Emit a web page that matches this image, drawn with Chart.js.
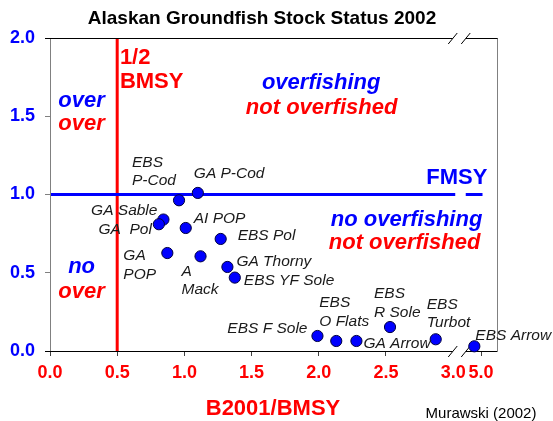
<!DOCTYPE html>
<html>
<head>
<meta charset="utf-8">
<style>
    body { margin: 0; background: #fff; }
</style>
</head>
<body>
<canvas id="chart" width="553" height="421"></canvas>

<script src="https://cdn.jsdelivr.net/npm/chart.js"></script>
<script type="text/javascript">
    // stock status 2002
    const stocks = ['EBS\nP-Cod', 'GA P-Cod', 'GA Sable', 'GA  Pol', 'AI POP', 'EBS Pol', 'GA\nPOP', 'A\nMack',
        'GA Thorny', 'EBS YF Sole', 'EBS F Sole', 'EBS\nO Flats', 'GA Arrow', 'EBS\nR Sole', 'EBS\nTurbot', 'EBS Arrow'];
    const biomassRatio = [0.96, 1.10, 0.844, 0.81, 1.01, 1.27, 0.873, 1.12, 1.32, 1.375, 1.99, 2.13, 2.28, 2.53, 2.87, 4.52];
    const fishingRatio = [0.963, 1.01, 0.84, 0.81, 0.786, 0.716, 0.626, 0.605, 0.537, 0.469, 0.096, 0.064, 0.064, 0.153, 0.075, 0.03];

    const xTickValues = [0, 0.5, 1, 1.5, 2, 2.5, 3, 5];
    const xTickLabels = ['0.0', '0.5', '1.0', '1.5', '2.0', '2.5', '3.0', '5.0'];
    const yTickValues = [0, 0.5, 1, 1.5, 2];

    const halfBmsy = 0.5;
    const fmsy = 1.0;

    // axis is broken after 3.0, the 3..5 stretch is squeezed
    const breakAt = 3;
    const squeeze = 0.1035;
    function toAxis(v) {
        return v <= breakAt ? v : breakAt + (v - breakAt) * squeeze;
    }

    // where each stock name sits relative to its dot: [dx, dy, align]
    const labelOffsets = [[-47, -38, 'left'], [-4, -19, 'left'], [-6, -9, 'right'], [-7, 5, 'right'],
        [8, -9, 'left'], [17, -3, 'left'], [-44, 3, 'left'], [-19, 15, 'left'], [9, -5, 'left'],
        [9, 3, 'left'], [-10, -7, 'right'], [-17, -38, 'left'], [7, 3, 'left'], [-16, -33, 'left'],
        [-9, -35, 'left'], [1, -11, 'left']];

    const BLUE = '#0000ff', RED = '#ff0000';
    const FONT = "'Liberation Sans', Arial, sans-serif";

    const notes = [
        {text: '1/2', x: 0.52, y: 1.875, color: RED, align: 'left', italic: false},
        {text: 'BMSY', x: 0.52, y: 1.72, color: RED, align: 'left', italic: false},
        {text: 'over', x: 0.235, y: 1.60, color: BLUE, align: 'center', italic: true},
        {text: 'over', x: 0.235, y: 1.45, color: RED, align: 'center', italic: true},
        {text: 'no', x: 0.235, y: 0.54, color: BLUE, align: 'center', italic: true},
        {text: 'over', x: 0.235, y: 0.375, color: RED, align: 'center', italic: true},
        {text: 'overfishing', x: 2.018, y: 1.71, color: BLUE, align: 'center', italic: true},
        {text: 'not overfished', x: 2.021, y: 1.555, color: RED, align: 'center', italic: true},
        {text: 'FMSY', x: 3.254, y: 1.108, color: BLUE, align: 'right', italic: false},
        {text: 'no overfishing', x: 3.217, y: 0.84, color: BLUE, align: 'right', italic: true},
        {text: 'not overfished', x: 3.202, y: 0.69, color: RED, align: 'right', italic: true}
    ];

    function line(ctx, x1, y1, x2, y2) {
        ctx.beginPath();
        ctx.moveTo(x1, y1);
        ctx.lineTo(x2, y2);
        ctx.stroke();
    }

    const decor = {
        id: 'decor',
        beforeDatasetsDraw(chart) {
            const {ctx, chartArea: a, scales: {x, y}} = chart;
            const bx = x.getPixelForValue(3.045);
            ctx.save();
            ctx.lineCap = 'butt';

            // reference lines
            ctx.strokeStyle = RED;
            ctx.lineWidth = 3;
            const rx = x.getPixelForValue(halfBmsy);
            line(ctx, rx, a.top, rx, a.bottom);

            const fy = y.getPixelForValue(fmsy);
            ctx.strokeStyle = BLUE;
            line(ctx, a.left, fy, bx - 4, fy);
            line(ctx, bx + 6.5, fy, x.getPixelForValue(toAxis(5)) + 1.5, fy);

            // frame
            ctx.lineWidth = 1;
            ctx.strokeStyle = '#808080';
            line(ctx, a.left + 0.5, a.top, a.left + 0.5, a.bottom);
            line(ctx, a.right + 0.5, a.top, a.right + 0.5, a.bottom);
            ctx.strokeStyle = '#000';
            [a.top + 0.5, a.bottom + 0.5].forEach(yy => {
                line(ctx, a.left - 5, yy, bx - 6.5, yy);
                line(ctx, bx + 6.5, yy, a.right + 0.5, yy);
                line(ctx, bx - 11, yy + 5.5, bx - 2, yy - 5.5);
                line(ctx, bx + 2, yy + 5.5, bx + 11, yy - 5.5);
            });
            ctx.restore();
        },
        afterDatasetsDraw(chart) {
            const {ctx, scales: {x, y}} = chart;
            ctx.save();
            ctx.textBaseline = 'middle';

            // stock names
            ctx.fillStyle = '#1a1a1a';
            ctx.font = 'italic 15.5px ' + FONT;
            stocks.forEach((name, i) => {
                const px = x.getPixelForValue(toAxis(biomassRatio[i]));
                const py = y.getPixelForValue(fishingRatio[i]);
                const [dx, dy, align] = labelOffsets[i];
                ctx.textAlign = align;
                name.split('\n').forEach((part, k) => {
                    ctx.fillText(part, px + dx, py + dy + k * 18.4);
                });
            });

            // zone notes
            notes.forEach(n => {
                ctx.font = (n.italic ? 'italic ' : '') + 'bold 22px ' + FONT;
                ctx.fillStyle = n.color;
                ctx.textAlign = n.align;
                ctx.fillText(n.text, x.getPixelForValue(n.x), y.getPixelForValue(n.y));
            });

            // titles
            ctx.textAlign = 'center';
            ctx.fillStyle = '#000';
            ctx.font = 'bold 19px ' + FONT;
            ctx.fillText('Alaskan Groundfish Stock Status 2002', 262, 19);
            ctx.fillStyle = RED;
            ctx.font = 'bold 22px ' + FONT;
            ctx.fillText('B2001/BMSY', 273, 409);
            ctx.fillStyle = '#000';
            ctx.font = '15px ' + FONT;
            ctx.fillText('Murawski (2002)', 481, 414);
            ctx.restore();
        }
    };

    const points = stocks.map((s, i) => ({x: toAxis(biomassRatio[i]), y: fishingRatio[i]}));

    new Chart(document.getElementById('chart'), {
        type: 'scatter',
        data: {
            datasets: [{
                label: 'stocks',
                data: points,
                backgroundColor: BLUE,
                borderColor: '#000040',
                borderWidth: 1,
                pointRadius: 5.6,
                clip: false
            }]
        },
        options: {
            responsive: false,
            animation: false,
            layout: {padding: {top: 38, right: 56, left: 0, bottom: 0}},
            scales: {
                x: {
                    type: 'linear',
                    min: 0,
                    max: 3.326,
                    afterBuildTicks: axis => {
                        axis.ticks = xTickValues.map(v => ({value: toAxis(v)}));
                    },
                    afterFit: axis => { axis.height = 70; },
                    border: {display: false},
                    grid: {
                        drawOnChartArea: false,
                        tickLength: 5,
                        color: c => c.index === 6 ? 'rgba(0,0,0,0)' : '#404040'
                    },
                    ticks: {
                        autoSkip: false,
                        maxRotation: 0,
                        padding: 6,
                        color: RED,
                        font: {family: FONT, size: 18, weight: 'bold'},
                        callback: (val, i) => xTickLabels[i]
                    }
                },
                y: {
                    min: 0,
                    max: 2,
                    afterBuildTicks: axis => {
                        axis.ticks = yTickValues.map(v => ({value: v}));
                    },
                    afterFit: axis => { axis.width = 50; },
                    border: {display: false},
                    grid: {drawOnChartArea: false, tickLength: 5, color: '#808080'},
                    ticks: {
                        padding: 10,
                        color: BLUE,
                        font: {family: FONT, size: 18, weight: 'bold'},
                        callback: v => v.toFixed(1)
                    }
                }
            },
            plugins: {
                legend: {display: false},
                tooltip: {enabled: false}
            }
        },
        plugins: [decor]
    });
</script>
</body>
</html>
